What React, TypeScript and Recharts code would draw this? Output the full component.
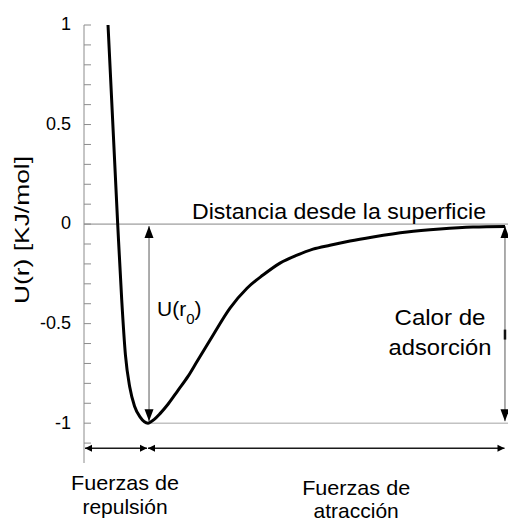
import React from 'react';
import { LineChart, Line, XAxis, YAxis, ReferenceLine } from 'recharts';

// distance from the surface (arbitrary units) and potential energy U(r) [KJ/mol]
const distance = [0.556, 0.78, 0.873, 0.96, 1.06, 1.17, 1.3, 1.481, 1.62, 1.76, 1.944, 2.176, 2.407, 2.616, 2.986, 3.38, 3.773, 4.144, 4.537, 4.931, 5.301, 5.694, 6.157, 6.69, 7.477, 8.241, 9.005, 9.745];
const potential = [1.0, 0.0, -0.38, -0.66, -0.82, -0.915, -0.97, -1.0, -0.982, -0.952, -0.905, -0.835, -0.765, -0.69, -0.558, -0.422, -0.322, -0.256, -0.196, -0.156, -0.126, -0.106, -0.085, -0.065, -0.04, -0.025, -0.015, -0.012];

const yTicks = [1, 0.9, 0.8, 0.7, 0.6, 0.5, 0.4, 0.3, 0.2, 0.1, 0, -0.1, -0.2, -0.3, -0.4, -0.5, -0.6, -0.7, -0.8, -0.9, -1, -1.1];
const yMajorTicks = [1, 0.5, 0, -0.5, -1];

// key distances
const rMin = 1.481; // position of the minimum
const rU0Arrow = 1.505; // U(r0) arrow
const rHeatArrow = 9.745; // heat of adsorption arrow
const rStart = 0.023;
const rRepEnd = 1.458;
const rAttStart = 1.481;
const rAttEnd = 9.734;
const uForceArrows = -1.126;

// bottom force-region labels
const forceLabelPos = [0.95, 6.3];
const forceLabels = [
  ['Fuerzas de', 'repulsión'],
  ['Fuerzas de', 'atracción'],
];
const forceLabelOffsets = [
  [27.3, 50.7],
  [32.3, 54.5],
];

const FONT = '"Liberation Sans", Arial, Helvetica, sans-serif';

const data = distance.map((r, i) => ({ r, u: potential[i] }));

const YTick = (props: any) => {
  const { x, y, payload } = props;
  const v = payload.value;
  const isMajor = yMajorTicks.includes(v);
  return (
    <g>
      <line x1={x} y1={y} x2={x + 7} y2={y} stroke="#8c8c8c" strokeWidth={1} />
      {isMajor && (
        <text x={x - 13} y={y} dy="0.3em" textAnchor="end" fontSize={18} fontFamily={FONT} fill="#000">
          {String(v)}
        </text>
      )}
    </g>
  );
};

const XTick = (props: any) => {
  const { x, y, payload } = props;
  const idx = forceLabelPos.indexOf(payload.value);
  if (idx < 0) return null;
  const [l1, l2] = forceLabels[idx];
  const [o1, o2] = forceLabelOffsets[idx];
  return (
    <g>
      <text x={x} y={y + o1} textAnchor="middle" fontSize={21} fontFamily={FONT} fill="#000" textLength={108} lengthAdjust="spacingAndGlyphs">
        {l1}
      </text>
      <text x={x} y={y + o2} textAnchor="middle" fontSize={21} fontFamily={FONT} fill="#000">
        {l2}
      </text>
    </g>
  );
};

const makeArrow =
  (o: { color: string; headColor: string; width: number; head: number; half: number; inset: number }) =>
  (props: any) => {
    const { x1, y1, x2, y2 } = props;
    if ([x1, y1, x2, y2].some((v) => typeof v !== 'number' || isNaN(v))) return null;
    const dx = x2 - x1;
    const dy = y2 - y1;
    const len = Math.hypot(dx, dy) || 1;
    const ux = dx / len;
    const uy = dy / len;
    const px = -uy;
    const py = ux;
    const ax = x1 + ux * o.inset;
    const ay = y1 + uy * o.inset;
    const bx = x2 - ux * o.inset;
    const by = y2 - uy * o.inset;
    const head = (tx: number, ty: number, dirx: number, diry: number) =>
      `${tx},${ty} ${tx - dirx * o.head + px * o.half},${ty - diry * o.head + py * o.half} ${tx - dirx * o.head - px * o.half},${ty - diry * o.head - py * o.half}`;
    return (
      <g>
        <line x1={ax} y1={ay} x2={bx} y2={by} stroke={o.color} strokeWidth={o.width} />
        <polygon points={head(ax, ay, -ux, -uy)} fill={o.headColor} />
        <polygon points={head(bx, by, ux, uy)} fill={o.headColor} />
      </g>
    );
  };

const verticalArrow = makeArrow({ color: '#5a5a5a', headColor: '#000', width: 1, head: 12, half: 4.5, inset: 2 });
const horizontalArrow = makeArrow({ color: '#1a1a1a', headColor: '#000', width: 1.5, head: 7, half: 3.5, inset: 0 });

export default function App() {
  return (
    <div style={{ position: 'relative', width: 508, height: 512 }}>
      <LineChart width={508} height={512} data={data} margin={{ top: 17, right: 0, bottom: 0, left: 0 }}>
        <XAxis
          dataKey="r"
          type="number"
          domain={[0, 10]}
          ticks={forceLabelPos}
          interval={0}
          height={57}
          axisLine={false}
          tickLine={false}
          tickSize={0}
          tickMargin={0}
          tick={<XTick />}
          allowDataOverflow
        />
        <YAxis
          type="number"
          domain={[-1.2, 1]}
          ticks={yTicks}
          interval={0}
          width={76}
          axisLine={{ stroke: '#8c8c8c', strokeWidth: 1 }}
          tickLine={false}
          tickSize={0}
          tickMargin={0}
          tick={<YTick />}
          allowDataOverflow
        />
        <ReferenceLine y={0} stroke="#858585" strokeWidth={1} />
        <ReferenceLine segment={[{ x: rMin, y: -1 }, { x: 10, y: -1 }]} stroke="#c2c2c2" strokeWidth={1.5} />
        <ReferenceLine segment={[{ x: rU0Arrow, y: 0 }, { x: rU0Arrow, y: -1 }]} shape={verticalArrow} />
        <ReferenceLine segment={[{ x: rHeatArrow, y: 0 }, { x: rHeatArrow, y: -1 }]} shape={verticalArrow} />
        <ReferenceLine segment={[{ x: rHeatArrow, y: -0.53 }, { x: rHeatArrow, y: -0.58 }]} stroke="#111" strokeWidth={2.5} />
        <ReferenceLine segment={[{ x: rStart, y: uForceArrows }, { x: rRepEnd, y: uForceArrows }]} shape={horizontalArrow} />
        <ReferenceLine segment={[{ x: rAttStart, y: uForceArrows }, { x: rAttEnd, y: uForceArrows }]} shape={horizontalArrow} />
        <Line dataKey="u" type="monotone" stroke="#000" strokeWidth={3} dot={false} isAnimationActive={false} />
      </LineChart>
      <svg width={508} height={512} style={{ position: 'absolute', left: 0, top: 0, pointerEvents: 'none' }}>
        <text x={184} y={211} fontSize={22} fontFamily={FONT} fill="#000" textLength={294} lengthAdjust="spacingAndGlyphs">
          Distancia desde la superficie
        </text>
        <text x={149} y={308} fontSize={21} fontFamily={FONT} fill="#000">
          <tspan>U(r</tspan>
          <tspan fontSize={15} dy={8}>0</tspan>
          <tspan dy={-8}>)</tspan>
        </text>
        <text x={432} y={317} textAnchor="middle" fontSize={22} fontFamily={FONT} fill="#000" textLength={91} lengthAdjust="spacingAndGlyphs">
          Calor de
        </text>
        <text x={432} y={347} textAnchor="middle" fontSize={22} fontFamily={FONT} fill="#000" textLength={103} lengthAdjust="spacingAndGlyphs">
          adsorción
        </text>
        <text
          x={0}
          y={0}
          transform="translate(21 222) rotate(-90)"
          textAnchor="middle"
          fontSize={20}
          fontFamily={FONT}
          fill="#000"
          textLength={148}
          lengthAdjust="spacingAndGlyphs"
        >
          U(r) [KJ/mol]
        </text>
      </svg>
    </div>
  );
}
